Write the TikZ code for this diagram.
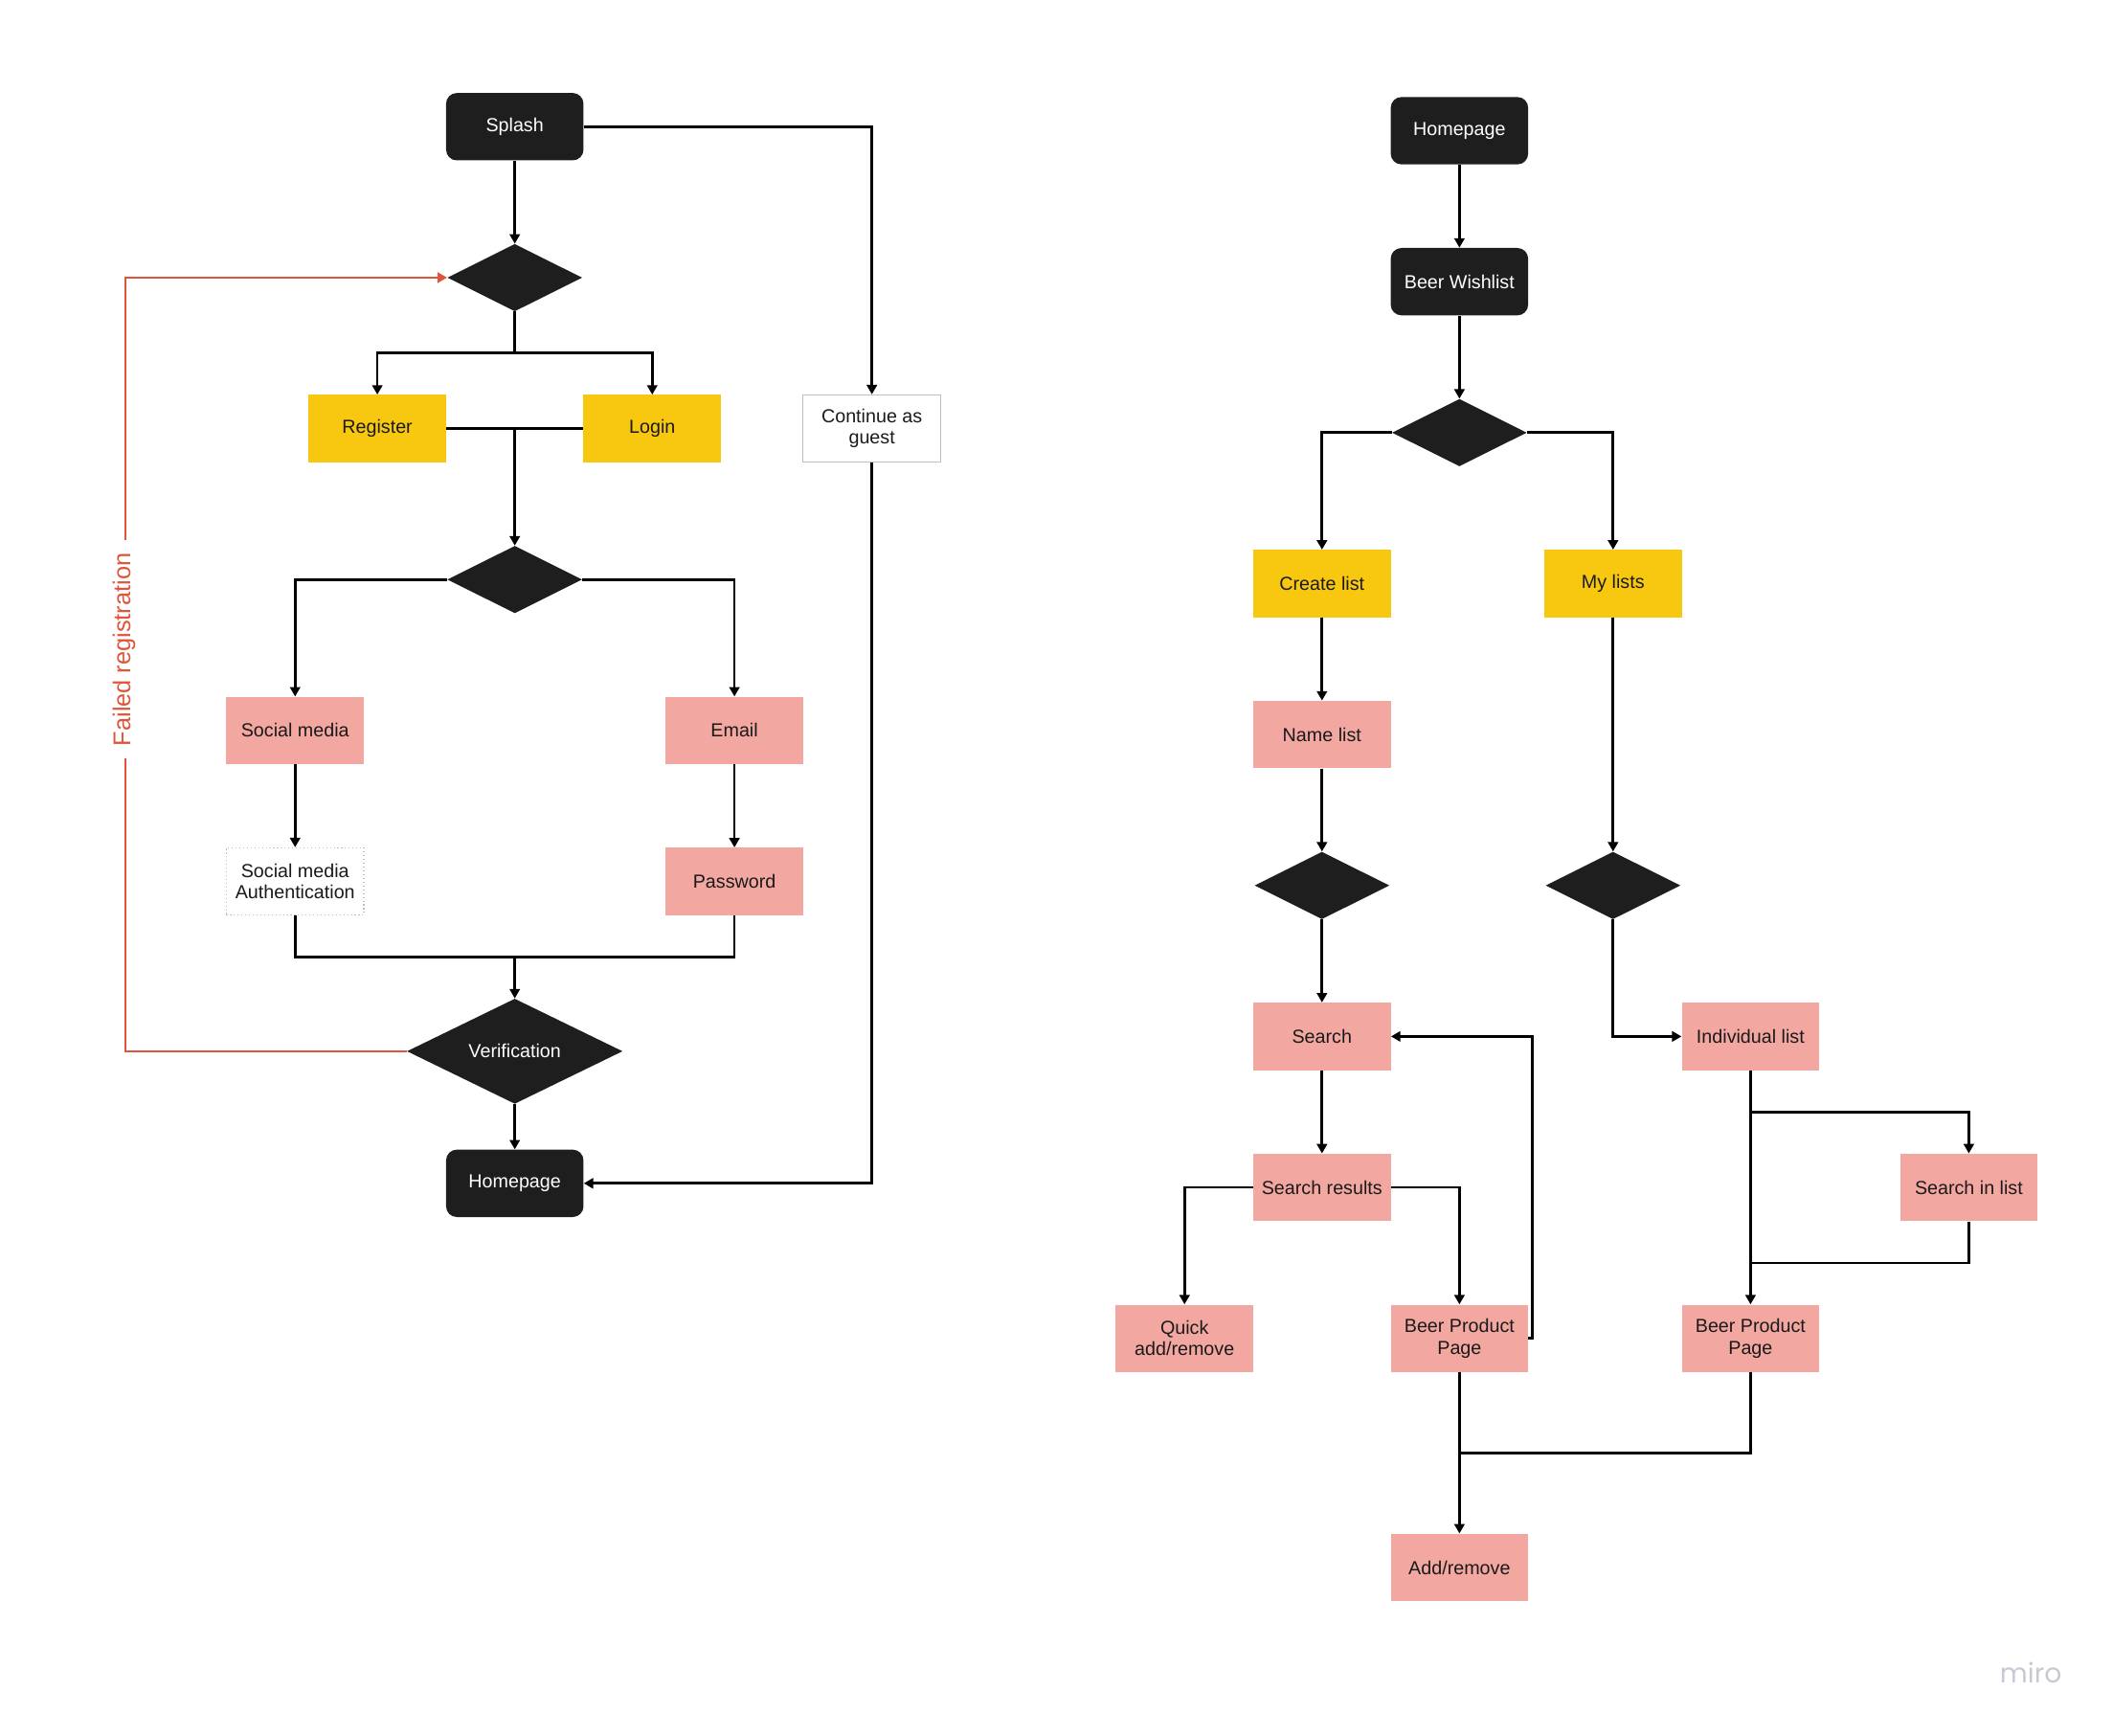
\documentclass[tikz,border=0pt]{standalone}
\usepackage{fontspec}
\setmainfont{Liberation Sans}
\newfontfamily\mirofont{Poppins}
\usetikzlibrary{shapes.geometric,arrows.meta}
\definecolor{nblack}{RGB}{30,30,30}
\definecolor{nyel}{RGB}{248,200,16}
\definecolor{npink}{RGB}{243,167,161}
\definecolor{ntext}{RGB}{26,26,26}
\definecolor{ngray}{RGB}{190,190,190}
\definecolor{nred}{RGB}{222,85,58}
\definecolor{nmiro}{RGB}{200,200,210}
\begin{document}
\begin{tikzpicture}[x=1pt,y=-1pt,
  base/.style={minimum width=102pt,minimum height=50pt,inner sep=0pt,align=center,font=\fontsize{14}{16}\selectfont},
  blk/.style={base,fill=nblack,rounded corners=8pt,text=white},
  yel/.style={base,fill=nyel,text=ntext},
  pnk/.style={base,fill=npink,text=ntext},
  wht/.style={base,draw=ngray,line width=0.8pt,text=ntext},
  dotbox/.style={base,draw=ngray,dotted,line width=0.8pt,text=ntext},
  dia/.style={diamond,aspect=2,fill=nblack,minimum width=100pt,minimum height=50pt,inner sep=0pt,text=white,font=\fontsize{14}{16}\selectfont},
  ln/.style={line width=1.9pt,draw=black},
  arr/.style={ln,-{Triangle[length=7pt,width=7.5pt]}},
  rln/.style={line width=1.9pt,draw=nred},
  rarr/.style={rln,-{Triangle[length=7pt,width=7.5pt]}},
]
\useasboundingbox (0,0) rectangle (1568,1287.4);

% ---------- left flow ----------
\node[blk] (splash) at (382,94) {Splash};
\node[dia] (d1) at (382,206) {};
\node[yel] (reg) at (280,318) {Register};
\node[yel] (login) at (484,318) {Login};
\node[wht] (guest) at (647,318) {Continue as\\guest};
\node[dia] (d2) at (382,430) {};
\node[pnk] (social) at (219,542) {Social media};
\node[pnk] (email) at (545,542) {Email};
\node[dotbox] (auth) at (219,654) {Social media\\Authentication};
\node[pnk] (pw) at (545,654) {Password};
\node[dia,minimum width=160pt,minimum height=78pt] (ver) at (382,780) {Verification};
\node[blk] (home1) at (382,878) {Homepage};
\node[text=nred,rotate=90,font=\fontsize{18}{20}\selectfont] (failed) at (92,482) {Failed registration};

\coordinate (j1) at (382,262);
\coordinate (j2) at (382,318);
\coordinate (j3) at (382,710);
\coordinate (f1) at (93,780);
\coordinate (f2) at (93,563);
\coordinate (f3) at (93,401);
\coordinate (f4) at (93,206);

\draw[arr] (splash.south) -- (d1.north);
\draw[arr] (splash.east) -| (guest.north);
\draw[ln] (d1.south) -- (j1);
\draw[arr] (j1) -| (reg.north);
\draw[arr] (j1) -| (login.north);
\draw[ln] (reg.east) -- (login.west);
\draw[arr] (j2) -- (d2.north);
\draw[arr] (d2.west) -| (social.north);
\draw[arr] (d2.east) -| (email.north);
\draw[arr] (social.south) -- (auth.north);
\draw[arr] (email.south) -- (pw.north);
\draw[ln] (auth.south) |- (j3);
\draw[ln] (pw.south) |- (j3);
\draw[arr] (j3) -- (ver.north);
\draw[arr] (ver.south) -- (home1.north);
\draw[arr] (guest.south) |- (home1.east);
\draw[rln] (ver.west) -- (f1) -- (f2);
\draw[rarr] (f3) -- (f4) -- (d1.west);

% ---------- right flow ----------
\node[blk] (home2) at (1083,97) {Homepage};
\node[blk] (wish) at (1083,209) {Beer Wishlist};
\node[dia] (d3) at (1083,321) {};
\node[yel] (create) at (981,433) {Create list};
\node[yel] (my) at (1197,433) {My lists};
\node[pnk] (name) at (981,545) {Name list};
\node[dia] (d4) at (981,657) {};
\node[dia] (d5) at (1197,657) {};
\node[pnk] (search) at (981,769) {Search};
\node[pnk] (ind) at (1299,769) {Individual list};
\node[pnk] (sr) at (981,881) {Search results};
\node[pnk] (sil) at (1461,881) {Search in list};
\node[pnk] (quick) at (879,993) {Quick\\add/remove};
\node[pnk] (bpp1) at (1083,993) {Beer Product\\Page};
\node[pnk] (bpp2) at (1299,993) {Beer Product\\Page};
\node[pnk] (add) at (1083,1163) {Add/remove};

\coordinate (j5) at (1299,825);
\coordinate (j6) at (1299,937);
\coordinate (j7) at (1083,1078);

\draw[arr] (home2.south) -- (wish.north);
\draw[arr] (wish.south) -- (d3.north);
\draw[arr] (d3.west) -| (create.north);
\draw[arr] (d3.east) -| (my.north);
\draw[arr] (create.south) -- (name.north);
\draw[arr] (name.south) -- (d4.north);
\draw[arr] (my.south) -- (d5.north);
\draw[arr] (d4.south) -- (search.north);
\draw[arr] (d5.south) |- (ind.west);
\draw[arr] (search.south) -- (sr.north);
\draw[arr] (sr.west) -| (quick.north);
\draw[arr] (sr.east) -| (bpp1.north);
\draw[arr] (bpp1.east) -- ++(3,0) |- (search.east);
\draw[arr] (ind.south) -- (bpp2.north);
\draw[arr] (j5) -| (sil.north);
\draw[ln] (sil.south) |- (j6);
\draw[arr] (bpp1.south) -- (add.north);
\draw[ln] (bpp2.south) |- (j7);

\node[text=nmiro,font=\mirofont\fontsize{20}{22}\selectfont] (miro) at (1507,1241) {miro};
\end{tikzpicture}
\end{document}
